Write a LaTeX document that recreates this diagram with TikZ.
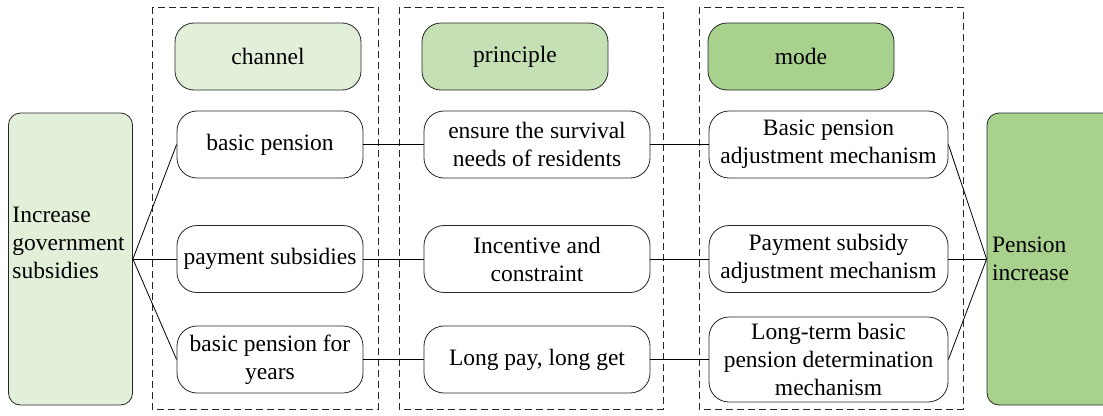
\documentclass[tikz,border=0pt]{standalone}
\usepackage{fontspec}
\setmainfont{Liberation Serif}
\newcommand\figfont{\fontsize{23.5}{28}\selectfont}
\definecolor{gA}{HTML}{E2EFD9}
\definecolor{gB}{HTML}{C5E0B4}
\definecolor{gC}{HTML}{A9D18E}
\begin{document}
\begin{tikzpicture}[x=1pt,y=-1pt,
  every node/.style={font=\figfont},
  rowbox/.style={draw=black!85, line width=0.8pt, rounded corners=20pt, align=center,
    inner sep=0pt, minimum height=67pt},
  headbox/.style={rowbox, rounded corners=19pt, minimum width=186pt},
  bigbox/.style={draw=black!85, line width=0.8pt, rounded corners=12pt, align=left,
    inner ysep=0pt, minimum height=292pt},
  dashbox/.style={draw=black!85, line width=0.8pt, dash pattern=on 7pt off 4pt},
  link/.style={draw=black, line width=0.8pt}]
\useasboundingbox (0,0) rectangle (1103,415);
\fill[white] (0,0) rectangle (1103,415);
% dashed group frames
\draw[dashbox] (152,7) rectangle (378,409);
\draw[dashbox] (399,7) rectangle (663,409);
\draw[dashbox] (699,7) rectangle (963,409);
% side boxes
\node[bigbox, fill=gA, inner xsep=4pt, text width=116pt, text depth=88pt] (inc) at (70.5,259)
  {Increase\\government\\subsidies};
\node[bigbox, fill=gC, inner xsep=5pt, text width=118pt] (pen) at (1051,259)
  {Pension\\increase};
% headers
\node[headbox, fill=gA] (hch) at (268,56.5) {channel};
\node[headbox, fill=gB] (hpr) at (515,56.5) {principle};
\node[headbox, fill=gC] (hmo) at (801,56.5) {mode};
% channel column
\node[rowbox, minimum width=186pt] (c1) at (270,144.5) {basic pension};
\node[rowbox, minimum width=186pt] (c2) at (270,259) {payment subsidies};
\node[rowbox, minimum width=186pt] (c3) at (270,359.5) {basic pension for\\years};
% principle column
\node[rowbox, minimum width=226pt] (p1) at (537,144.5) {ensure the survival\\needs of residents};
\node[rowbox, minimum width=226pt] (p2) at (537,259) {Incentive and\\constraint};
\node[rowbox, minimum width=226pt] (p3) at (537,359.5) {Long pay, long get};
% mode column
\node[rowbox, minimum width=239pt] (m1) at (828.5,144.5) {Basic pension\\adjustment mechanism};
\node[rowbox, minimum width=239pt] (m2) at (828.5,259) {Payment subsidy\\adjustment mechanism};
\node[rowbox, minimum width=239pt, minimum height=85pt] (m3) at (828.5,359.5)
  {Long-term basic\\pension determination\\mechanism};
% connectors
\draw[link] (inc.east) -- (c1.west);
\draw[link] (inc.east) -- (c2.west);
\draw[link] (inc.east) -- (c3.west);
\draw[link] (c1.east) -- (p1.west);
\draw[link] (c2.east) -- (p2.west);
\draw[link] (c3.east) -- (p3.west);
\draw[link] (p1.east) -- (m1.west);
\draw[link] (p2.east) -- (m2.west);
\draw[link] (p3.east) -- (m3.west);
\draw[link] (m1.east) -- (pen.west);
\draw[link] (m2.east) -- (pen.west);
\draw[link] (m3.east) -- (pen.west);
\end{tikzpicture}
\end{document}
